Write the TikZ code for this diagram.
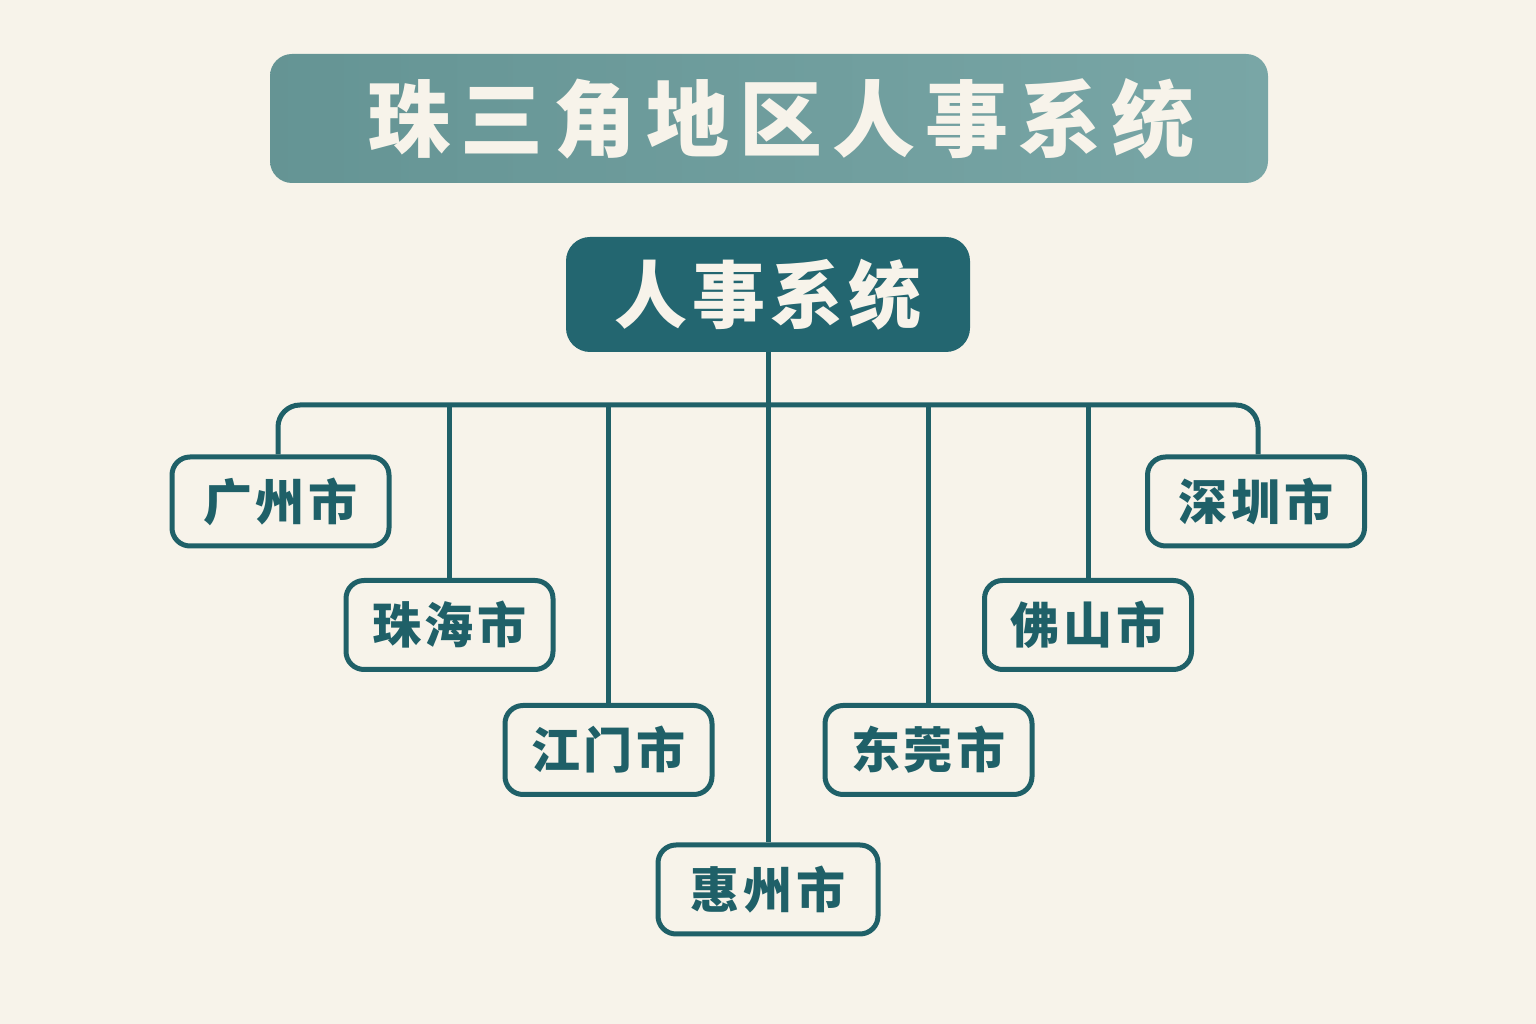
\documentclass[tikz,border=0pt]{standalone}
\usepackage{fontspec}
\newfontfamily\cjk{Noto Sans CJK SC}
\definecolor{bg}{HTML}{F7F3EA}
\definecolor{titlefill}{HTML}{6A9C9C}
\definecolor{rootfill}{HTML}{236670}
\definecolor{line}{HTML}{1F6068}
\tikzset{
  x=1pt,y=1pt,
  citybox/.style={draw=line, line width=5pt, fill=bg, rounded corners=18pt,
    minimum width=207pt, minimum height=89pt, inner sep=0pt,
    text=line, font=\cjk\bfseries\fontsize{49}{52}\selectfont},
  conn/.style={draw=line, line width=5pt},
}
\begin{document}
\begin{tikzpicture}
\useasboundingbox (0,0) rectangle (1536,1024);
\fill[bg] (0,0) rectangle (1536,1024);
% title
\node[rounded corners=22pt, left color=titlefill!95!black, right color=titlefill!90!white,
  minimum width=998pt, minimum height=129pt, inner sep=0pt] (title) at (769,905.5) {};
\node[text=bg, font=\cjk\bfseries\fontsize{83}{86}\selectfont, inner sep=0pt] (titletext) at (781,905)
  {珠\kern10pt 三\kern10pt 角\kern10pt 地\kern10pt 区\kern10pt 人\kern10pt 事\kern10pt 系\kern10pt 统};
% root
\node[fill=rootfill, rounded corners=24pt, minimum width=404pt, minimum height=115pt,
  inner sep=0pt, text=bg, font=\cjk\bfseries\fontsize{73}{76}\selectfont] (root) at (768,729.5)
  {人\kern5pt 事\kern5pt 系\kern5pt 统};
% cities
\node[citybox, minimum width=217pt] (gz) at (280.5,522.5) {广\kern4pt 州\kern4pt 市};
\node[citybox] (zh) at (449.5,399) {珠\kern4pt 海\kern4pt 市};
\node[citybox] (jm) at (608.5,274) {江\kern4pt 门\kern4pt 市};
\node[citybox, minimum width=220pt] (hz) at (768,134.5) {惠\kern4pt 州\kern4pt 市};
\node[citybox] (dg) at (928.5,274) {东\kern4pt 莞\kern4pt 市};
\node[citybox] (fs) at (1088,399) {佛\kern4pt 山\kern4pt 市};
\node[citybox, minimum width=217pt] (sz) at (1256,522.5) {深\kern4pt 圳\kern4pt 市};
% connectors
\coordinate (bus) at (768,619);
\draw[conn, rounded corners=22pt] ([xshift=-2.5pt]gz.north) |- (bus) -| ([xshift=2pt]sz.north);
\draw[conn] (root.south) -- (hz.north);
\draw[conn] (zh.north) -- (zh.north |- bus);
\draw[conn] (jm.north) -- (jm.north |- bus);
\draw[conn] (dg.north) -- (dg.north |- bus);
\draw[conn] (fs.north) -- (fs.north |- bus);
\end{tikzpicture}
\end{document}
